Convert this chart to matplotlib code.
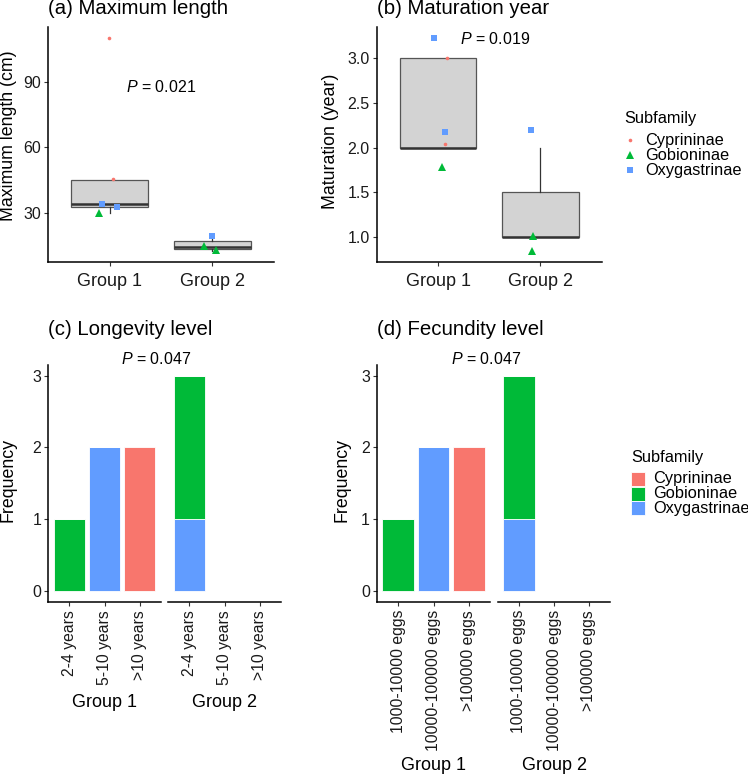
import numpy as np
import matplotlib
matplotlib.use('Agg')
import matplotlib.pyplot as plt
from matplotlib.lines import Line2D
from matplotlib.patches import Rectangle

plt.rcParams['font.family'] = ['Liberation Sans', 'DejaVu Sans']
plt.rcParams['mathtext.fontset'] = 'custom'
plt.rcParams['mathtext.it'] = 'Liberation Sans:italic'
plt.rcParams['mathtext.rm'] = 'Liberation Sans'

W, H = 748, 775

# ---------------- data ----------------
groups = ['Group 1', 'Group 2']
subfamilies = ['Cyprininae', 'Gobioninae', 'Oxygastrinae']
sub_colors = ['#F8766D', '#00BA38', '#619CFF']
sub_markers = ['o', '^', 's']
sub_msize = [2.6, 5.2, 4.4]

# (a) maximum length (cm), one entry per species (jitter)
len_group = [1, 1, 1, 1, 1, 2, 2, 2]
len_subfam = ['Cyprininae', 'Cyprininae', 'Oxygastrinae', 'Oxygastrinae', 'Gobioninae',
              'Oxygastrinae', 'Gobioninae', 'Gobioninae']
len_value = [110, 45.2, 34.3, 32.7, 30.0, 19.5, 14.5, 12.5]
len_jit_x = [-0.007, 0.033, -0.07, 0.075, -0.104, -0.004, -0.085, 0.032]
len_jit_y = [0, 0.1, -0.4, 0, 0, 0, 0.4, 0.5]
p_len = 'P = 0.021'

# (b) maturation year
mat_group = [1, 1, 1, 1, 1, 2, 2, 2]
mat_subfam = ['Cyprininae', 'Cyprininae', 'Oxygastrinae', 'Oxygastrinae', 'Gobioninae',
              'Oxygastrinae', 'Gobioninae', 'Gobioninae']
mat_value = [3, 2, 3, 2, 2, 2, 1, 1]
mat_jit_x = [0.09, 0.068, -0.036, 0.071, 0.035, -0.094, -0.07, -0.085]
mat_jit_y = [0.0, 0.04, 0.23, 0.18, -0.22, 0.2, 0.01, -0.16]
p_mat = 'P = 0.019'

# (c) longevity level counts
long_levels = ['2-4 years', '5-10 years', '>10 years']
long_g1_cyp = [0, 0, 2]
long_g1_gob = [1, 0, 0]
long_g1_oxy = [0, 2, 0]
long_g2_cyp = [0, 0, 0]
long_g2_gob = [2, 0, 0]
long_g2_oxy = [1, 0, 0]
p_long = 'P = 0.047'

# (d) fecundity level counts
fec_levels = ['1000-10000 eggs', '10000-100000 eggs', '>100000 eggs']
fec_g1_cyp = [0, 0, 2]
fec_g1_gob = [1, 0, 0]
fec_g1_oxy = [0, 2, 0]
fec_g2_cyp = [0, 0, 0]
fec_g2_gob = [2, 0, 0]
fec_g2_oxy = [1, 0, 0]
p_fec = 'P = 0.047'

# ---------------- helpers ----------------
fig = plt.figure(figsize=(W / 100, H / 100), dpi=100)

TXT = '#1a1a1a'
YTICK_FS = 11.5
XTICK_FS = 13
LAB_FS = 12.8
TITLE_FS = 14.7
P_FS = 11.5
LEG_FS = 11.8


def add_ax(l, t, r, b):
    return fig.add_axes([l / W, 1 - b / H, (r - l) / W, (b - t) / H])


def style(ax, left=True):
    for s in ['top', 'right']:
        ax.spines[s].set_visible(False)
    for s in ['left', 'bottom']:
        ax.spines[s].set_linewidth(1.1)
        ax.spines[s].set_color('black')
    ax.tick_params(direction='out', length=2.75, width=0.8, color='#333333',
                   labelcolor=TXT)
    ax.tick_params(axis='y', labelsize=YTICK_FS, pad=2.2)
    if not left:
        ax.spines['left'].set_visible(False)
        ax.tick_params(axis='y', left=False, labelleft=False)


def italic_p(s):
    return r'$\mathit{P}$' + s[1:]


def fig_ylabel(ax, text, x, y):
    ax.set_ylabel(text, fontsize=LAB_FS, color='black', va='center')
    ax.yaxis.set_label_coords(x / W, 1 - y / H, transform=fig.transFigure)


def box_panel(ax, gidx, subs, vals, jx, jy):
    data = [[v for v, g in zip(vals, gidx) if g == k] for k in (1, 2)]
    ax.boxplot(data, positions=[1, 2], widths=0.75, showfliers=False,
               patch_artist=True, showcaps=False, whis=1.5,
               boxprops=dict(facecolor='#D3D3D3', edgecolor='#555555', linewidth=0.9),
               medianprops=dict(color='#333333', linewidth=1.8),
               whiskerprops=dict(color='#333333', linewidth=0.9), zorder=1)
    ys = []
    for sf, col, mk, ms in zip(subfamilies, sub_colors, sub_markers, sub_msize):
        xs = [g + dx for g, s, dx in zip(gidx, subs, jx) if s == sf]
        yv = [v + dy for v, s, dy in zip(vals, subs, jy) if s == sf]
        ys += yv
        ax.plot(xs, yv, linestyle='none', marker=mk, markersize=ms, color=col,
                markeredgewidth=0, zorder=3)
    allv = ys + list(vals)
    lo, hi = min(allv), max(allv)
    pad = 0.05 * (hi - lo)
    ax.set_ylim(lo - pad, hi + pad)
    ax.set_xlim(0.4, 2.6)
    ax.set_xticks([1, 2])
    ax.set_xticklabels(groups)
    ax.tick_params(axis='x', labelsize=XTICK_FS, pad=5.4)


def bar_facet(ax, levels, cyp, gob, oxy, left=True):
    bottom = np.zeros(len(levels))
    for h, col in ((oxy, sub_colors[2]), (gob, sub_colors[1]), (cyp, sub_colors[0])):
        ax.bar(levels, h, bottom=bottom, width=0.9, color=col, edgecolor='white',
               linewidth=0.6)
        bottom = bottom + np.array(h)
    ax.set_ylim(-0.15, 3.15)
    ax.set_yticks([0, 1, 2, 3])
    ax.set_xlim(-0.6, 2.6)
    style(ax, left)
    ax.tick_params(axis='x', labelsize=11.3, pad=3.2, labelrotation=90)
    for t in ax.get_xticklabels():
        t.set_va('top')
        t.set_ha('center')


# ---------------- (a) ----------------
axa = add_ax(48, 27, 274, 262)
box_panel(axa, len_group, len_subfam, len_value, len_jit_x, len_jit_y)
style(axa)
axa.set_yticks([30, 60, 90])
axa.text(1.5, 87.7, italic_p(p_len), fontsize=P_FS, ha='center', va='center', color='black')
fig_ylabel(axa, 'Maximum length (cm)', 9, 136)
fig.text(48 / W, 1 - 9 / H, '(a) Maximum length', fontsize=TITLE_FS, ha='left', va='center')

# ---------------- (b) ----------------
axb = add_ax(376.7, 27, 601.7, 262)
box_panel(axb, mat_group, mat_subfam, mat_value, mat_jit_x, mat_jit_y)
style(axb)
axb.set_yticks([1.0, 1.5, 2.0, 2.5, 3.0])
axb.set_yticklabels(['1.0', '1.5', '2.0', '2.5', '3.0'])
axb.text(1.56, 3.21, italic_p(p_mat), fontsize=P_FS, ha='center', va='center', color='black')
fig_ylabel(axb, 'Maturation (year)', 330.5, 141)
fig.text(376.7 / W, 1 - 9 / H, '(b) Maturation year', fontsize=TITLE_FS, ha='left', va='center')

# legend for (b): point keys
fig.text(624 / W, 1 - 119 / H, 'Subfamily', fontsize=LEG_FS, ha='left', va='center')
for i, (sf, col, mk, ms) in enumerate(zip(subfamilies, sub_colors, sub_markers, sub_msize)):
    yy = 1 - (140 + 15 * i) / H
    fig.add_artist(Line2D([630 / W], [yy], transform=fig.transFigure, linestyle='none',
                          marker=mk, markersize=ms, color=col, markeredgewidth=0))
    fig.text(645 / W, yy, sf, fontsize=LEG_FS, ha='left', va='center')

# ---------------- (c) ----------------
axc1 = add_ax(48.3, 365, 160.7, 601.7)
axc2 = add_ax(168.3, 365, 280.7, 601.7)
bar_facet(axc1, long_levels, long_g1_cyp, long_g1_gob, long_g1_oxy, True)
bar_facet(axc2, long_levels, long_g2_cyp, long_g2_gob, long_g2_oxy, False)
for ax, g, (l, r) in ((axc1, groups[0], (48.3, 160.7)), (axc2, groups[1], (168.3, 280.7))):
    ax.set_xlabel(g, fontsize=XTICK_FS, va='center')
    ax.xaxis.set_label_coords((l + r) / 2 / W, 1 - 702.7 / H, transform=fig.transFigure)
fig_ylabel(axc1, 'Frequency', 8.5, 480.5)
fig.text(48.3 / W, 1 - 329 / H, '(c) Longevity level', fontsize=TITLE_FS, ha='left', va='center')
fig.text(156.2 / W, 1 - 359 / H, italic_p(p_long), fontsize=P_FS, ha='center', va='center')

# ---------------- (d) ----------------
axd1 = add_ax(377, 365, 490, 601.7)
axd2 = add_ax(498, 365, 610, 601.7)
bar_facet(axd1, fec_levels, fec_g1_cyp, fec_g1_gob, fec_g1_oxy, True)
bar_facet(axd2, fec_levels, fec_g2_cyp, fec_g2_gob, fec_g2_oxy, False)
for ax, g, (l, r) in ((axd1, groups[0], (377, 490)), (axd2, groups[1], (498, 610))):
    ax.set_xlabel(g, fontsize=XTICK_FS, va='center')
    ax.xaxis.set_label_coords((l + r) / 2 / W, 1 - 765 / H, transform=fig.transFigure)
fig_ylabel(axd1, 'Frequency', 342.5, 480.5)
fig.text(377 / W, 1 - 329 / H, '(d) Fecundity level', fontsize=TITLE_FS, ha='left', va='center')
fig.text(485.7 / W, 1 - 359 / H, italic_p(p_fec), fontsize=P_FS, ha='center', va='center')

# legend for (d): fill keys
fig.text(631 / W, 1 - 457.7 / H, 'Subfamily', fontsize=LEG_FS, ha='left', va='center')
for i, (sf, col) in enumerate(zip(subfamilies, sub_colors)):
    yc = 479 + 14.7 * i
    fig.add_artist(Rectangle((631 / W, 1 - (yc + 7) / H), 14.4 / W, 14 / H,
                             transform=fig.transFigure, facecolor=col, edgecolor='white',
                             linewidth=0.6))
    fig.text(653 / W, 1 - yc / H, sf, fontsize=LEG_FS, ha='left', va='center')

fig.savefig('out.png', dpi=100)
